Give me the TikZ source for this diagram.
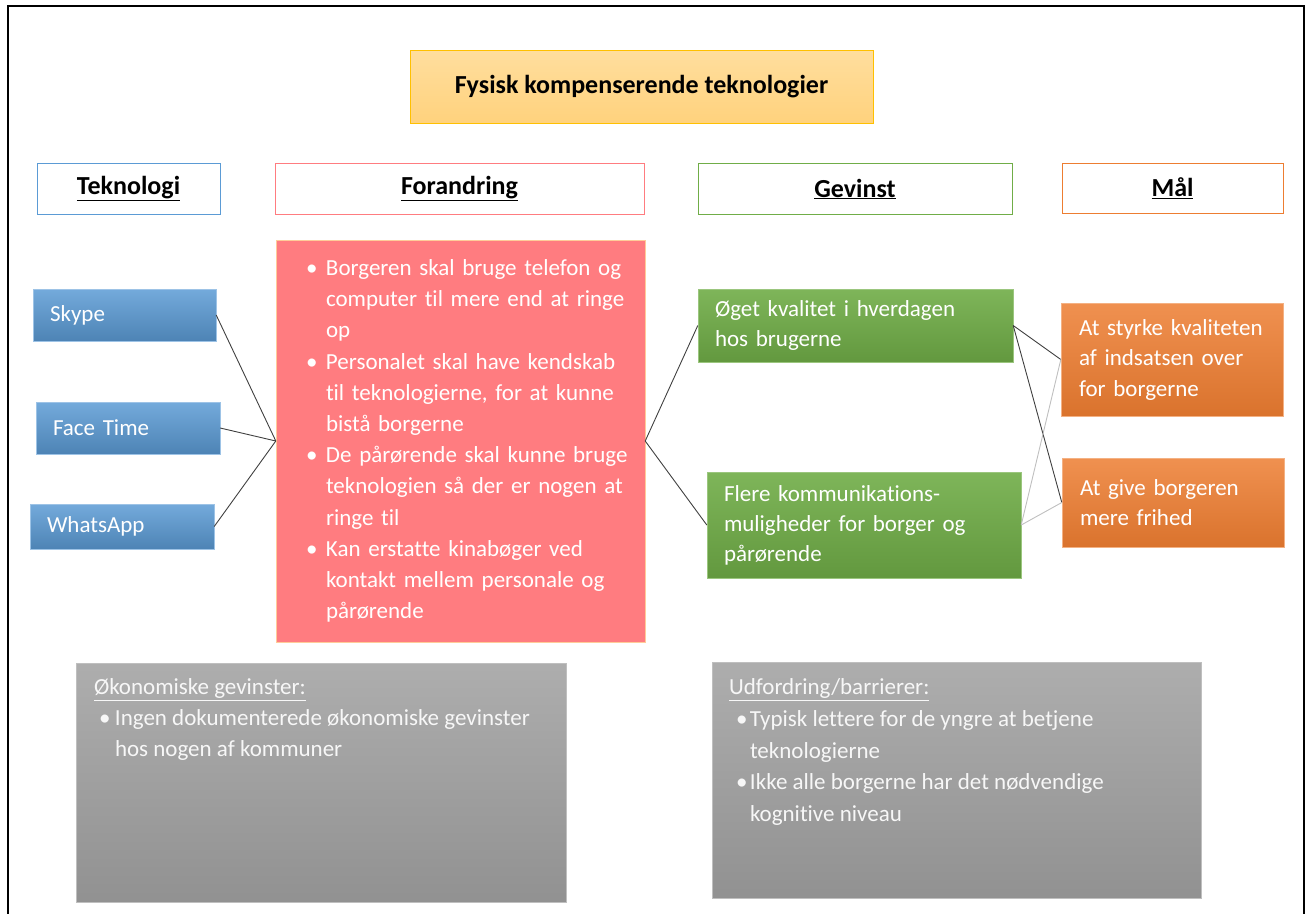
\documentclass[tikz,border=0pt]{standalone}
\usepackage{fontspec}
\setmainfont{Carlito}[Ligatures=NoCommon]
\usepackage{tikz}

\definecolor{tekblue}{HTML}{5B9BD5}
\definecolor{forred}{HTML}{FF7C80}
\definecolor{gevgreen}{HTML}{70AD47}
\definecolor{malorange}{HTML}{ED7D31}
\definecolor{titletop}{HTML}{FFDE9E}
\definecolor{titlebot}{HTML}{FFD27D}
\definecolor{titleedge}{HTML}{FFC000}
\newcommand{\bul}[2]{\hspace*{#1}\makebox[#2][l]{\textbullet}}

\tikzset{
  head/.style={draw=#1, fill=white, line width=0.8pt,
    font=\fontsize{26}{30}\selectfont\bfseries},
  box/.style={rectangle, text=white, align=left, inner ysep=0pt,
    font=\fontsize{23}{30}\selectfont},
  tek/.style={box, top color=tekblue!85!white, bottom color=tekblue!85!black,
    draw=tekblue!60!white, inner xsep=17pt},
  gev/.style={box, top color=gevgreen!90!white, bottom color=gevgreen!88!black,
    draw=gevgreen!70!white, inner xsep=17pt},
  mal/.style={box, top color=malorange!85!white, bottom color=malorange!92!black,
    draw=malorange!60!white, inner xsep=18pt, font=\fontsize{23}{30.5}\selectfont},
  grey/.style={rectangle, text=white!97!black, inner sep=0pt,
    top color=black!32, bottom color=black!43, draw=black!25},
  link/.style={draw=black!75, line width=0.9pt},
  faint/.style={draw=black!25, line width=0.9pt}
}

\begin{document}
\begin{tikzpicture}[x=1pt,y=-1pt]
    \useasboundingbox (0,0) rectangle (1308,913);
    \draw[line width=1.6pt] (8,920) |- (1304,6) -- (1304,920);

    \node[draw=titleedge, top color=titletop, bottom color=titlebot,
      minimum width=463pt, minimum height=73pt,
      font=\fontsize{26}{30}\selectfont\bfseries] (T) at (641.5,86.5) {Fysisk kompenserende teknologier};

    \node[head=tekblue, minimum width=183pt, minimum height=51pt] (H1) at (128.5,188.5) {\underline{Teknologi}};
    \node[head=forred, minimum width=369pt, minimum height=51pt] (H2) at (459.5,188.5) {\underline{Forandring}};
    \node[head=gevgreen, minimum width=314pt, minimum height=51pt] (H3) at (855,189) {\underline{Gevinst}};
    \node[head=malorange, minimum width=221pt, minimum height=50pt] (H4) at (1172.5,188.5) {\underline{Mål}};

    \node[tek, text width=149pt, minimum height=52pt] (K1) at (124.5,315) {Skype};
    \node[tek, text width=150pt, minimum height=52pt] (K2) at (128,428) {Face Time};
    \node[tek, text width=150pt, minimum height=45pt] (K3) at (122,526.5) {WhatsApp};

    \node[box, fill=forred, draw=orange!40!white, text width=339pt, inner xsep=15pt,
      minimum height=402pt, font=\fontsize{23}{31.2}\selectfont] (F) at (460.5,441)
      {\bul{15pt}{20pt}Borgeren skal bruge telefon og\\
       \hspace*{35pt}computer til mere end at ringe\\
       \hspace*{35pt}op\\
       \bul{15pt}{20pt}Personalet skal have kendskab\\
       \hspace*{35pt}til teknologierne, for at kunne\\
       \hspace*{35pt}bistå borgerne\\
       \bul{15pt}{20pt}De pårørende skal kunne bruge\\
       \hspace*{35pt}teknologien så der er nogen at\\
       \hspace*{35pt}ringe til\\
       \bul{15pt}{20pt}Kan erstatte kinabøger ved\\
       \hspace*{35pt}kontakt mellem personale og\\
       \hspace*{35pt}pårørende\\[-6pt]};

    \node[gev, text width=281pt, minimum height=73pt] (G1) at (855.5,325.5)
      {Øget kvalitet i hverdagen\\hos brugerne};
    \node[gev, text width=280pt, minimum height=106pt] (G2) at (864,525)
      {Flere kommunikations-\\muligheder for borger og\\pårørende};

    \node[mal, text width=186pt, minimum height=113pt] (M1) at (1172,359.5)
      {At styrke kvaliteten\\af indsatsen over\\for borgerne};
    \node[mal, text width=186pt, minimum height=89pt] (M2) at (1173,502.5)
      {At give borgeren\\mere frihed};

    \node[grey, minimum width=490pt, minimum height=239pt] (B1) at (321,782.5)
      {\parbox[c][239pt][t]{454pt}{\fontsize{23}{30.8}\selectfont\raggedright
       \vspace*{16pt}\underline{Økonomiske gevinster:}\\
       \bul{5pt}{16pt}Ingen dokumenterede økonomiske gevinster\\
       \hspace*{21pt}hos nogen af kommuner}};
    \node[grey, minimum width=489pt, minimum height=236pt] (B2) at (956.5,780)
      {\parbox[c][236pt][t]{455pt}{\fontsize{23}{31.6}\selectfont\raggedright
       \vspace*{17pt}\underline{Udfordring/barrierer:}\\
       \bul{7pt}{14pt}Typisk lettere for de yngre at betjene\\
       \hspace*{21pt}teknologierne\\
       \bul{7pt}{14pt}Ikke alle borgerne har det nødvendige\\
       \hspace*{21pt}kognitive niveau}};

    \draw[link] (K1.east)--(F.west);
    \draw[link] (K2.east)--(F.west);
    \draw[link] (K3.east)--(F.west);

    \draw[link] (F.east)--(G1.west);
    \draw[link] (F.east)--(G2.west);

    \draw[link] (G1.east)--(M1.west);
    \draw[link] (G1.east)--(M2.west);
    \draw[faint] (G2.east)--(M1.west);
    \draw[faint] (G2.east)--(M2.west);
\end{tikzpicture}
\end{document}
